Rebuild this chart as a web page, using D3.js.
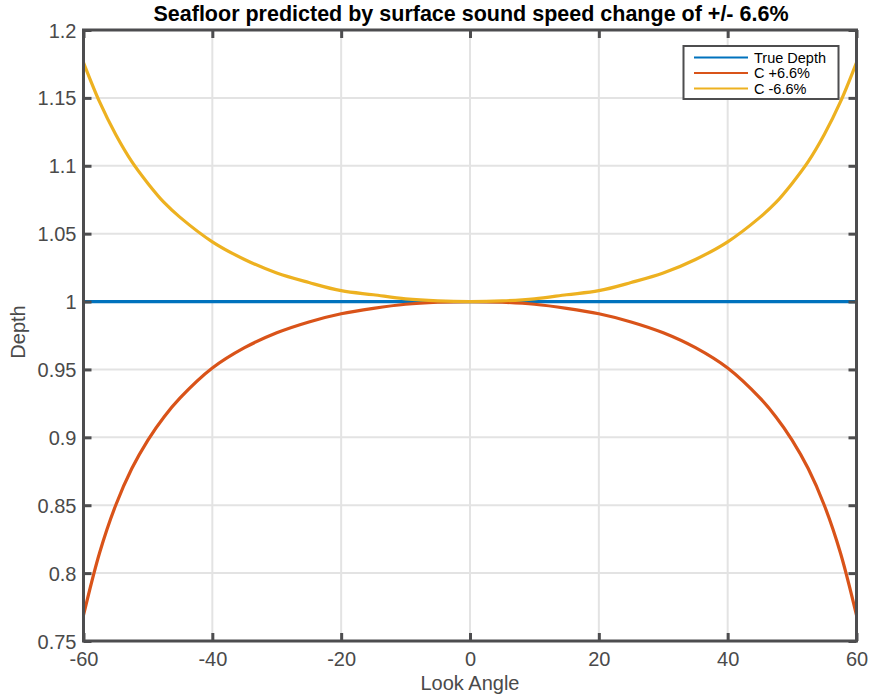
<!DOCTYPE html>
<html><head><meta charset="utf-8">
<script src="https://cdn.jsdelivr.net/npm/d3@7/dist/d3.min.js"></script>
<style>body{margin:0;background:#fff}svg{display:block}text{font-family:"Liberation Sans",Arial,Helvetica,sans-serif}</style>
</head><body>
<script>
const angles = [-60,-57.5,-55,-52.5,-50,-47.5,-45,-40,-35,-30,-25,-20,-15,-10,-5,0,5,10,15,20,25,30,35,40,45,47.5,50,52.5,55,57.5,60];
const trueDepth = angles.map(() => 1);
const cPlus = [0.769,0.815,0.850,0.877,0.898,0.915,0.929,0.951,0.966,0.977,0.985,0.991,0.995,0.998,0.9995,1,0.9995,0.998,0.995,0.991,0.985,0.977,0.966,0.951,0.929,0.915,0.898,0.877,0.850,0.815,0.769];
const cMinus = [1.176,1.147,1.123,1.103,1.087,1.073,1.062,1.044,1.031,1.021,1.014,1.008,1.005,1.002,1.0005,1,1.0005,1.002,1.005,1.008,1.014,1.021,1.031,1.044,1.062,1.073,1.087,1.103,1.123,1.147,1.176];
const xTicks = [-60,-40,-20,0,20,40,60];
const yTicks = [0.75,0.8,0.85,0.9,0.95,1,1.05,1.1,1.15,1.2];
const seriesNames = ["True Depth","C +6.6%","C -6.6%"];
const seriesColors = ["#0072BD","#D95319","#EDB120"];
const seriesValues = [trueDepth, cPlus, cMinus];

const W = 875, H = 700;
const m = {left:83.5, right:856.5, top:30, bottom:641};
const svg = d3.select("body").append("svg").attr("width",W).attr("height",H);
const x = d3.scaleLinear().domain([-60,60]).range([m.left,m.right]);
const y = d3.scaleLinear().domain([0.75,1.2]).range([m.bottom,m.top]);
const axisCol = "#4d4d4f", textCol = "#4a4a4a";

// grid
svg.append("g").selectAll("line").data(xTicks.slice(1,-1)).join("line")
  .attr("x1",d=>x(d)).attr("x2",d=>x(d)).attr("y1",m.top).attr("y2",m.bottom)
  .attr("stroke","#e3e3e3").attr("stroke-width",2);
svg.append("g").selectAll("line").data(yTicks.slice(1,-1)).join("line")
  .attr("y1",d=>y(d)).attr("y2",d=>y(d)).attr("x1",m.left).attr("x2",m.right)
  .attr("stroke","#e3e3e3").attr("stroke-width",2);

// lines
const line = d3.line().x((d,i)=>x(angles[i])).y(d=>y(d)).curve(d3.curveCatmullRom.alpha(0.5));
seriesValues.forEach((vals,i)=>{
  svg.append("path").datum(vals).attr("d",line).attr("fill","none")
    .attr("stroke",seriesColors[i]).attr("stroke-width",3.2);
});

// axes
const tl = 8;
const gB = svg.append("g").attr("transform",`translate(0,${m.bottom})`)
  .call(d3.axisBottom(x).tickValues(xTicks).tickSize(-tl).tickPadding(11).tickFormat(d=>String(d)));
const gT = svg.append("g").attr("transform",`translate(0,${m.top})`)
  .call(d3.axisTop(x).tickValues(xTicks).tickSize(-tl).tickFormat(""));
const gL = svg.append("g").attr("transform",`translate(${m.left},0)`)
  .call(d3.axisLeft(y).tickValues(yTicks).tickSize(-tl).tickPadding(7).tickFormat(d=>String(+d.toFixed(2))));
const gR = svg.append("g").attr("transform",`translate(${m.right},0)`)
  .call(d3.axisRight(y).tickValues(yTicks).tickSize(-tl).tickFormat(""));
[gB,gT,gL,gR].forEach(g=>{
  g.select(".domain").remove();
  g.selectAll(".tick line").attr("stroke",axisCol).attr("stroke-width",3);
  g.selectAll(".tick text").attr("fill",textCol).style("font-size","20px");
});
gL.selectAll(".tick text").attr("dy","0.35em");
svg.append("rect").attr("x",m.left).attr("y",m.top).attr("width",m.right-m.left).attr("height",m.bottom-m.top)
  .attr("fill","none").attr("stroke",axisCol).attr("stroke-width",3);

// labels
svg.append("text").attr("x",471).attr("y",21).attr("text-anchor","middle")
  .style("font-size","21.5px").style("font-weight","bold").attr("fill","#000")
  .text("Seafloor predicted by surface sound speed change of +/- 6.6%");
svg.append("text").attr("x",(m.left+m.right)/2).attr("y",690).attr("text-anchor","middle")
  .style("font-size","20px").attr("fill",textCol).text("Look Angle");
svg.append("text").attr("transform",`translate(25,${332}) rotate(-90)`).attr("text-anchor","middle")
  .style("font-size","20px").attr("fill",textCol).text("Depth");

// legend
const lg = svg.append("g");
lg.append("rect").attr("x",683.5).attr("y",46).attr("width",155).attr("height",53)
  .attr("fill","#fff").attr("stroke",axisCol).attr("stroke-width",2);
seriesNames.forEach((n,i)=>{
  const yy = 57.5 + i*15.5;
  lg.append("line").attr("x1",694).attr("x2",748).attr("y1",yy).attr("y2",yy)
    .attr("stroke",seriesColors[i]).attr("stroke-width",2.2);
  lg.append("text").attr("x",754).attr("y",yy).attr("dy","0.35em")
    .style("font-size","14.5px").attr("fill","#000").text(n);
});
</script>
</body></html>
